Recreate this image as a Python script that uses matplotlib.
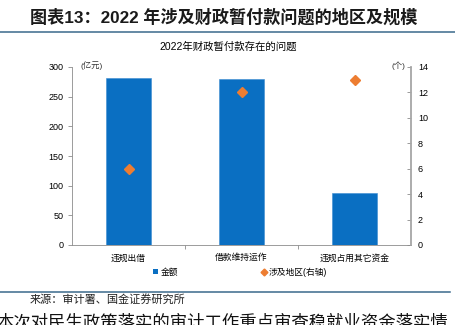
import numpy as np
import matplotlib
matplotlib.use('Agg')
import matplotlib.pyplot as plt
from matplotlib.lines import Line2D
from matplotlib.patches import Patch

plt.rcParams['font.family'] = ['Liberation Sans', 'Noto Sans CJK SC', 'DejaVu Sans']

# 数据
categories = ['违规出借', '借款维持运作', '违规占用其它资金']
amount = [282, 280, 87]        # 金额(亿元)
regions = [6, 12, 13]          # 涉及地区(个)

left_ticks = np.arange(0, 301, 50)
right_ticks = np.arange(0, 15, 2)

bar_color = '#0A6FC2'
dot_color = '#ED7D31'
axis_gray = '#8C8C8C'

fig = plt.figure(figsize=(4.56, 3.25), dpi=100)
W, H = 456, 325
ax = fig.add_axes([72 / W, (H - 245) / H, (411 - 72) / W, (245 - 67) / H])
ax2 = ax.twinx()

x = np.arange(len(categories))
ax.bar(x, amount, width=0.4, color=bar_color, edgecolor='#3C8BD0', linewidth=0.4, zorder=2)
ax2.plot(x, regions, ls='none', marker='D', markersize=5.5, color=dot_color, zorder=3)

ax.set_xlim(-0.5, 2.5)
ax.set_ylim(0, 300)
ax2.set_ylim(0, 14)
ax.set_yticks(left_ticks)
ax2.set_yticks(right_ticks)

ax.set_xticks(x)
ax.set_xticklabels(categories, fontsize=6.3)
ax.set_xticks([0.5, 1.5], minor=True)
ax.tick_params(axis='x', which='major', length=0, pad=6)
ax.tick_params(axis='x', which='minor', length=3, width=0.6, color=axis_gray, direction='out')
ax.tick_params(axis='y', labelsize=6.5, length=3, width=0.6, color=axis_gray, pad=3)
ax2.tick_params(axis='y', labelsize=6.5, length=3, width=0.6, color=axis_gray, direction='in', pad=5)

for a in (ax, ax2):
    a.spines['top'].set_visible(False)
    a.patch.set_visible(False)
ax.spines['right'].set_visible(False)
ax2.spines['left'].set_visible(False)
ax2.spines['bottom'].set_visible(False)
ax.spines['left'].set_color(axis_gray)
ax.spines['left'].set_linewidth(0.6)
ax.spines['bottom'].set_color(axis_gray)
ax.spines['bottom'].set_linewidth(0.6)
ax2.spines['right'].set_color('#A6A6A6')
ax2.spines['right'].set_linewidth(1.3)

# 单位
fig.text(81 / W, 1 - 66 / H, '(亿元)', fontsize=6, va='center', ha='left', color='#333333')
fig.text(405 / W, 1 - 66 / H, '(个)', fontsize=6, va='center', ha='right', color='#333333')

# 图内标题
fig.text(228 / W, 1 - 47 / H, '2022年财政暂付款存在的问题', fontsize=7.5, ha='center', va='center')

# 图例
handles = [Patch(facecolor=bar_color, edgecolor='none'),
           Line2D([], [], ls='none', marker='D', markersize=3.5, color=dot_color)]
fig.legend(handles, ['金额', '涉及地区(右轴)'], loc='center', bbox_to_anchor=(240 / W, 1 - 272 / H),
           ncol=2, frameon=False, fontsize=6.3, handlelength=0.6, handleheight=0.6,
           handletextpad=0.3, columnspacing=9.5)

# 页面标题与分隔线
fig.text(30 / W, 1 - 17 / H, '图表13：2022 年涉及财政暂付款问题的地区及规模', fontsize=12.3,
         fontweight='bold', ha='left', va='center', color='#1a1a1a')
fig.add_artist(Line2D([0, 1], [1 - 31.5 / H] * 2, color='#3B6A8C', linewidth=1.1))
fig.add_artist(Line2D([0, 450 / W], [1 - 291.5 / H] * 2, color='#3B6A8C', linewidth=1.1))

fig.text(30 / W, 1 - 299 / H, '来源：审计署、国金证券研究所', fontsize=8, ha='left', va='center', color='#222222')
fig.text(-4 / W, 1 - 322 / H, '本次对民生政策落实的审计工作重点审查稳就业资金落实情', fontsize=12.5,
         ha='left', va='center', color='#111111')

fig.savefig('out.png', dpi=100)
